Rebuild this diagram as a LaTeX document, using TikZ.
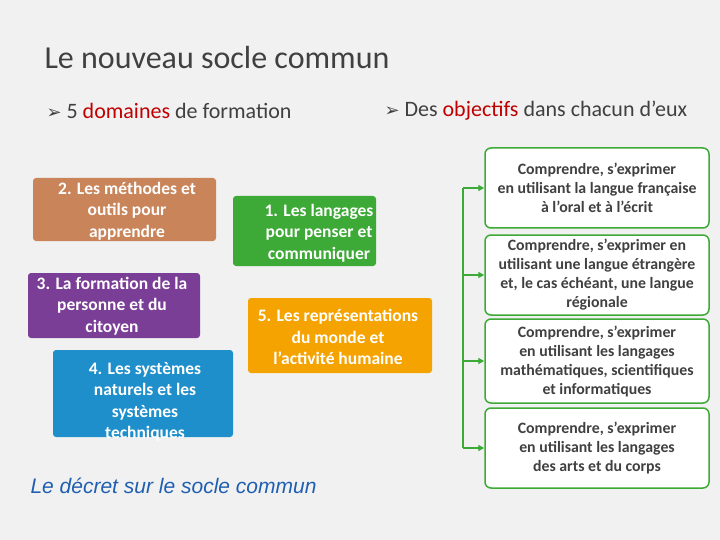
\documentclass[tikz,border=0pt]{standalone}
\usepackage{fontspec}
\setmainfont{Carlito}
\newfontfamily\dv{DejaVu Sans}
\newfontfamily\arialf{Liberation Sans}
\usetikzlibrary{arrows.meta}
\definecolor{bg}{HTML}{F1F1F1}
\definecolor{tit}{HTML}{404040}
\definecolor{brn}{HTML}{C9845A}
\definecolor{pur}{HTML}{7B3E96}
\definecolor{blu}{HTML}{1E8FCB}
\definecolor{grn}{HTML}{3DA936}
\definecolor{org}{HTML}{F5A300}
\definecolor{red1}{HTML}{C00000}
\definecolor{dec}{HTML}{1F5FB0}
\tikzset{
 dom/.style={rounded corners=3pt,text=white,font=\bfseries\fontsize{17.5}{21.5}\selectfont,align=center,inner sep=2pt},
 obj/.style={draw=grn,line width=1.5pt,fill=white,rounded corners=6pt,minimum width=224pt,align=center,font=\bfseries\fontsize{15.8}{19}\selectfont,text=tit},
 arr/.style={draw=grn,line width=1.3pt,-{Triangle[length=6pt,width=6pt]}}
}
\begin{document}
\begin{tikzpicture}[x=1pt,y=-1pt]
\fill[bg] (0,0) rectangle (720,540);
\useasboundingbox (0,0) rectangle (720,540);
\node[anchor=west,text=tit,font=\fontsize{32}{34}\selectfont] (t) at (41,58) {Le nouveau socle commun};
\node[anchor=west,text=tit,font=\fontsize{22}{24}\selectfont] (b1) at (43,111) {{\dv\bfseries\fontsize{18}{20}\selectfont ➢} 5 \textcolor{red1}{domaines} de formation};
\node[anchor=west,text=tit,font=\fontsize{22}{24}\selectfont] (b2) at (381,111) {{\dv\bfseries\fontsize{18}{20}\selectfont ➢} Des \textcolor{red1}{objectifs} dans chacun d’eux};
\path[fill=brn,rounded corners=3pt] (33,178) rectangle (216,241);
\node[dom] (d2) at (127,211) {2. Les méthodes et\\outils pour\\apprendre};
\path[fill=pur,rounded corners=3pt] (28,273) rectangle (200,338);
\node[dom] (d3) at (112,306) {3. La formation de la\\personne et du\\citoyen};
\path[fill=blu,rounded corners=3pt] (53,350) rectangle (233,437);
\node[dom] (d4) at (145,402) {4. Les systèmes\\naturels et les\\systèmes\\techniques};
\path[fill=grn,rounded corners=3pt] (233,196) rectangle (376,266);
\node[dom] (d1) at (319,233) {1. Les langages\\pour penser et\\communiquer};
\path[fill=org,rounded corners=3pt] (248,298) rectangle (432,373);
\node[dom] (d5) at (338,337) {5. Les représentations\\du monde et\\l’activité humaine};
\node[obj,minimum height=80pt] (o1) at (597,188) {Comprendre, s’exprimer\\en utilisant la langue française\\à l’oral et à l’écrit};
\node[obj,minimum height=80pt] (o2) at (597,275) {Comprendre, s’exprimer en\\utilisant une langue étrangère\\et, le cas échéant, une langue\\régionale};
\node[obj,minimum height=84pt] (o3) at (597,361) {Comprendre, s’exprimer\\en utilisant les langages\\mathématiques, scientifiques\\et informatiques};
\node[obj,minimum height=80pt] (o4) at (597,448) {Comprendre, s’exprimer\\en utilisant les langages\\des arts et du corps};
\coordinate (top) at (463,188);
\coordinate (bot) at (463,448);
\draw[grn,line width=1.3pt] (top) -- (bot);
\draw[arr] (top) -- (o1.west);
\draw[arr] (463,275) -- (o2.west);
\draw[arr] (463,361) -- (o3.west);
\draw[arr] (bot) -- (o4.west);
\node[anchor=west,text=dec,font=\arialf\itshape\fontsize{21}{23}\selectfont] (dc) at (27,486) {Le décret sur le socle commun};
\end{tikzpicture}
\end{document}
